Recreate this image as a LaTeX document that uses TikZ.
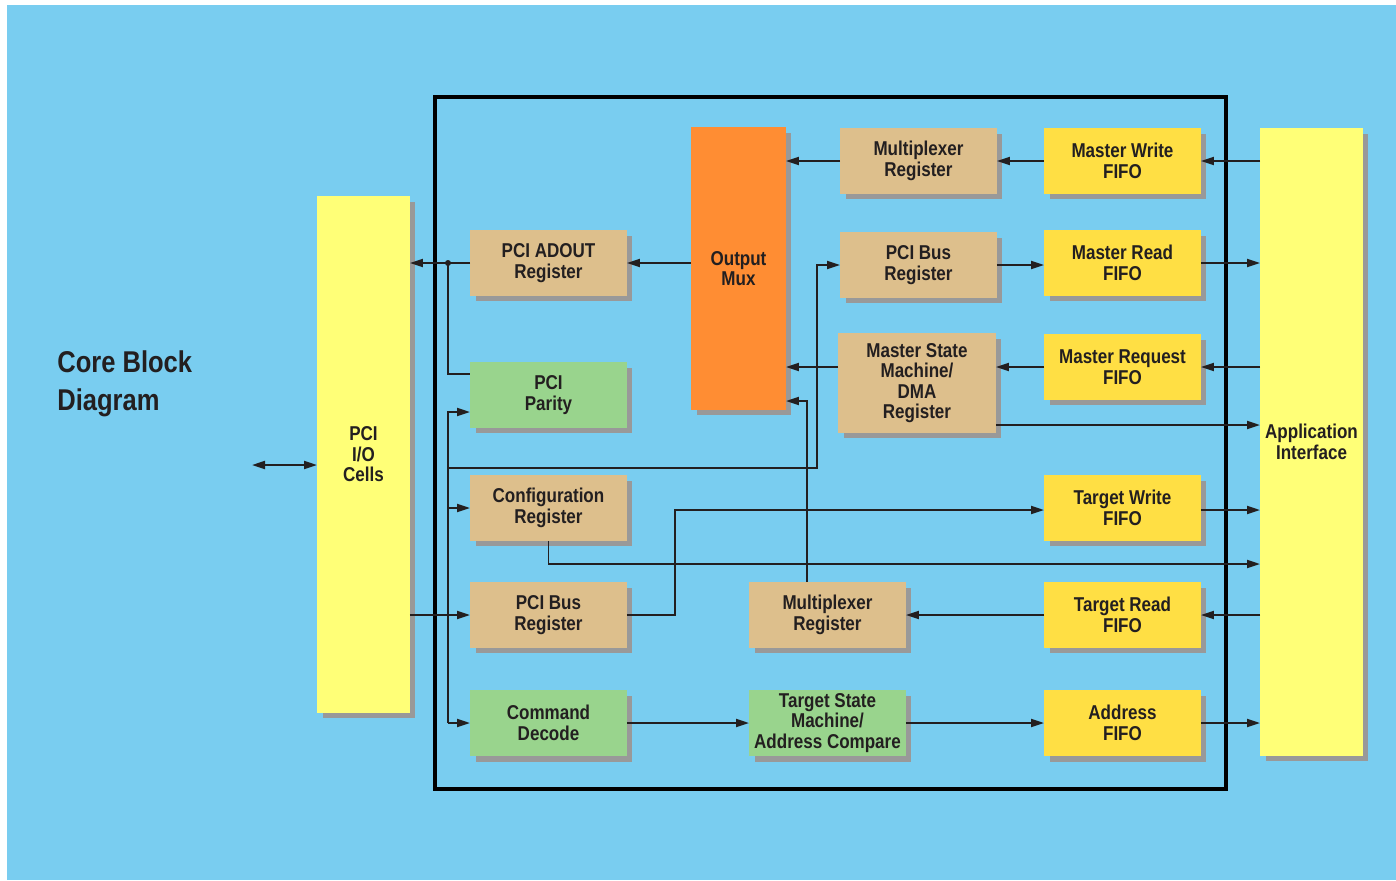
\documentclass[tikz,border=0pt]{standalone}
\usepackage{fontspec}
\usepackage{tikz}
\setmainfont{Liberation Sans}[FakeStretch=0.85]
\usetikzlibrary{
  arrows.meta,
  positioning,
  calc,
  shadows
}
\definecolor{cbBack}{HTML}{79CDF0}
\definecolor{cbTan}{HTML}{DDBF8C}
\definecolor{cbGreen}{HTML}{99D48D}
\definecolor{cbFifo}{HTML}{FFDF44}
\definecolor{cbPort}{HTML}{FFFF77}
\definecolor{cbMux}{HTML}{FF8D33}
\definecolor{cbShade}{HTML}{999999}
\definecolor{cbInk}{HTML}{231F20}
\tikzset{
  cbblock/.style={
    inner sep=0pt, outer sep=0pt, anchor=north west, align=center, text=cbInk,
    font=\bfseries\fontsize{11.4}{11.7}\selectfont,
    general shadow={fill=cbShade, shadow xshift=0.11cm, shadow yshift=-0.11cm}
  },
  register/.style={cbblock, fill=cbTan, minimum width=3.14cm, minimum height=1.32cm},
  logic/.style={register, fill=cbGreen},
  fifo/.style={register, fill=cbFifo},
  portbar/.style={cbblock, fill=cbPort},
  muxbar/.style={cbblock, fill=cbMux},
  conn/.style={-{Triangle[length=0.26cm, width=0.16cm]}, line width=1.1pt, cbInk},
  dconn/.style={{Triangle[length=0.26cm, width=0.16cm]}-{Triangle[length=0.26cm, width=0.16cm]}, line width=1.1pt, cbInk},
  wire/.style={line width=1.1pt, cbInk},
  coreframe/.style={line width=2pt, black},
  heading/.style={inner sep=0pt, anchor=north west, align=left, text=cbInk,
    font=\bfseries\fontsize{17.1}{21.6}\selectfont}
}

\begin{document}
\begin{tikzpicture}[x=0.02cm, y=-0.02cm]
  \useasboundingbox (0,0) rectangle (1396,880);
  \fill[cbBack] (7,5) rectangle (1396,880);
  \draw[coreframe] (435,97) rectangle (1226,789);

  \node[heading] (title) at (57,350) {Core Block\\Diagram};

  \node[portbar, minimum width=1.86cm, minimum height=10.34cm] (iocells) at (317,196) {PCI\\I/O\\Cells};
  \node[portbar, minimum width=2.06cm, minimum height=12.56cm] (app) at (1260,128) {Application\\Interface};

  \node[register] (adout) at (470,230) {PCI ADOUT\\Register};
  \node[logic] (parity) at (470,362) {PCI\\Parity};
  \node[register] (config) at (470,475) {Configuration\\Register};
  \node[register] (busleft) at (470,582) {PCI Bus\\Register};
  \node[logic] (cmddec) at (470,690) {Command\\Decode};

  \node[muxbar, minimum width=1.9cm, minimum height=5.66cm] (omux) at (691,127) {Output\\Mux};

  \node[register] (muxtop) at (840,128) {Multiplexer\\Register};
  \node[register] (bustop) at (840,232) {PCI Bus\\Register};
  \node[register, minimum width=3.16cm, minimum height=2cm] (msm) at (838,333) {Master State\\Machine/\\DMA\\Register};
  \node[register] (muxbot) at (749,582) {Multiplexer\\Register};
  \node[logic] (tsm) at (749,690) {Target State\\Machine/\\Address Compare};

  \node[fifo] (mwf) at (1044,128) {Master Write\\FIFO};
  \node[fifo] (mrf) at (1044,230) {Master Read\\FIFO};
  \node[fifo] (mqf) at (1044,334) {Master Request\\FIFO};
  \node[fifo] (twf) at (1044,475) {Target Write\\FIFO};
  \node[fifo] (trf) at (1044,582) {Target Read\\FIFO};
  \node[fifo] (adf) at (1044,690) {Address\\FIFO};

  \coordinate (pciext) at (252,465);
  \coordinate (tap) at (448,263);
  \coordinate (bus) at (448,412);
  \coordinate (lift) at (817,468);
  \coordinate (riser) at (807,401);
  \coordinate (jog) at (675,510);
  \coordinate (cfgrun) at (0,564);
  \coordinate (dmarun) at (0,425);

  \draw[dconn] (pciext) -- (iocells.west |- pciext);
  \draw[conn] (adout.west) -- (adout.west -| iocells.east);
  \fill[cbInk] (tap) circle (3);
  \draw[wire] (tap) |- ([yshift=0.42cm]parity.west);
  \draw[conn] (bus |- cmddec.west) -- (bus) -- (parity.west |- bus);
  \draw[conn] (bus |- config.west) -- (config.west);
  \draw[conn] (bus |- cmddec.west) -- (cmddec.west);
  \draw[conn] (iocells.east |- busleft.west) -- (busleft.west);
  \draw[conn] (bus |- lift) -- (lift) |- (bustop.west);

  \draw[conn] (omux.west |- adout.east) -- (adout.east);
  \draw[conn] (muxtop.west) -- (muxtop.west -| omux.east);
  \draw[conn] (mwf.west) -- (mwf.west -| muxtop.east);
  \draw[conn] (app.west |- mwf.east) -- (mwf.east);
  \draw[conn] (bustop.east) -- (bustop.east -| mrf.west);
  \draw[conn] (mrf.east) -- (mrf.east -| app.west);
  \draw[conn] (msm.west |- mqf.west) -- (omux.east |- mqf.west);
  \draw[conn] (mqf.west) -- (msm.east |- mqf.west);
  \draw[conn] (app.west |- mqf.east) -- (mqf.east);
  \draw[conn] (msm.east |- dmarun) -- (app.west |- dmarun);

  \draw[conn] (riser |- muxbot.north) -- (riser) -- (riser -| omux.east);
  \draw[conn] (config.south) |- (app.west |- cfgrun);
  \draw[conn] (busleft.east) -| (jog) -- (twf.west |- jog);
  \draw[conn] (twf.east |- jog) -- (app.west |- jog);
  \draw[conn] (app.west |- trf.east) -- (trf.east);
  \draw[conn] (trf.west) -- (muxbot.east);
  \draw[conn] (cmddec.east) -- (tsm.west);
  \draw[conn] (tsm.east) -- (adf.west);
  \draw[conn] (adf.east) -- (adf.east -| app.west);
\end{tikzpicture}
\end{document}
